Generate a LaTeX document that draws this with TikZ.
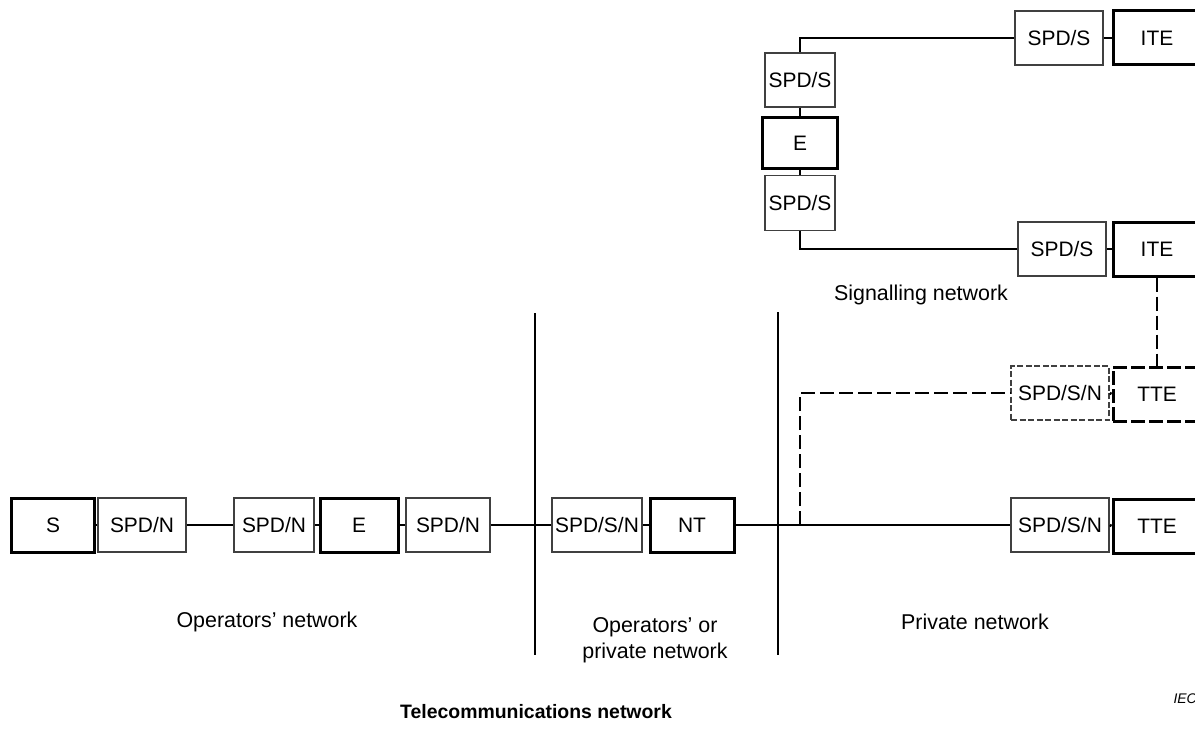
\documentclass[tikz,border=0pt]{standalone}
\usepackage{fontspec}
\setmainfont{Liberation Sans}
\begin{document}
\begin{tikzpicture}[x=1bp,y=-1bp,
  box/.style={draw, rectangle, inner sep=0pt, minimum height=54bp, font=\fontsize{21}{25}\selectfont},
  spd/.style={box, draw=black!75, line width=1.6bp},
  eq/.style={box, draw=black, line width=3bp},
  wire/.style={line width=2.6bp, black},
  dwire/.style={line width=2.8bp, black, dash pattern=on 14bp off 5bp},
  lbl/.style={font=\fontsize{21.5}{26}\selectfont, align=center}
]
\clip (0,0) rectangle (1195,745);
\fill[white] (0,0) rectangle (1195,745);
% bottom row
\node[eq, minimum width=82bp] (S) at (53,525) {S};
\node[spd, minimum width=88bp] (n1) at (142,525) {SPD/N};
\node[spd, minimum width=80bp] (n2) at (274,525) {SPD/N};
\node[eq, minimum width=78bp] (E) at (359,525) {E};
\node[spd, minimum width=84bp] (n3) at (448,525) {SPD/N};
\node[spd, minimum width=90bp] (ssn) at (597,525) {SPD/S/N};
\node[eq, minimum width=84bp] (NT) at (692,525) {NT};
\node[spd, minimum width=98bp] (ssn2) at (1060,525) {SPD/S/N};
\node[eq, minimum width=88bp] (tte2) at (1157,526) {TTE};
% dashed row
\node[spd, dash pattern=on 6bp off 2.5bp, minimum width=98bp] (ssn1) at (1060,393) {SPD/S/N};
\node[eq, dash pattern=on 14bp off 4bp, minimum width=88bp] (tte1) at (1157,394) {TTE};
% signalling
\node[spd, minimum width=88bp] (spds1) at (1059,38) {SPD/S};
\node[eq, minimum width=88bp] (ite1) at (1157,38) {ITE};
\node[spd, minimum width=88bp] (spds3) at (1062,249) {SPD/S};
\node[eq, minimum width=88bp] (ite2) at (1157,249) {ITE};
\node[spd, minimum width=70bp] (spdsA) at (800,80) {SPD/S};
\node[eq, minimum width=75bp, minimum height=50bp] (eA) at (800,143) {E};
\node[spd, minimum width=70bp, minimum height=55bp] (spdsB) at (800,203) {SPD/S};
% connectors
\draw[wire] (S.east) -- (n1.west);
\draw[wire] (n1.east) -- (n2.west);
\draw[wire] (n2.east) -- (E.west);
\draw[wire] (E.east) -- (n3.west);
\draw[wire] (n3.east) -- (ssn.west);
\draw[wire] (ssn.east) -- (NT.west);
\draw[wire] (NT.east) -- (ssn2.west);
\draw[wire] (ssn2.east) -- (tte2.west);
\draw[wire] (ssn1.east) -- (tte1.west);
\coordinate (br) at (800,525);
\draw[dwire] (br) |- (ssn1.west);
\draw[wire] (spdsA.north) |- (spds1.west);
\draw[wire] (spds1.east) -- (ite1.west);
\draw[wire] (spdsA.south) -- (eA.north);
\draw[wire] (eA.south) -- (spdsB.north);
\draw[wire] (spdsB.south) |- (spds3.west);
\draw[wire] (spds3.east) -- (ite2.west);
\draw[dwire] (ite2.south) -- (tte1.north);
% boundaries
\coordinate (v1t) at (535,313); \coordinate (v1b) at (535,655);
\coordinate (v2t) at (778,312); \coordinate (v2b) at (778,655);
\draw[line width=1.6bp] (v1t) -- (v1b);
\draw[line width=1.6bp] (v2t) -- (v2b);
% labels
\node[lbl] (lsig) at (921,295) {Signalling network};
\node[lbl] (lop) at (267,622) {Operators’ network};
\node[lbl] (lopp) at (655,640) {Operators’ or\\private network};
\node[lbl] (lpriv) at (975,622) {Private network};
\node[font=\fontsize{14}{16}\selectfont\itshape, anchor=west] (iec) at (1170,699) {IEC};
\node[font=\fontsize{19.5}{23}\selectfont\bfseries] (title) at (536,712) {Telecommunications network};
\end{tikzpicture}
\end{document}
